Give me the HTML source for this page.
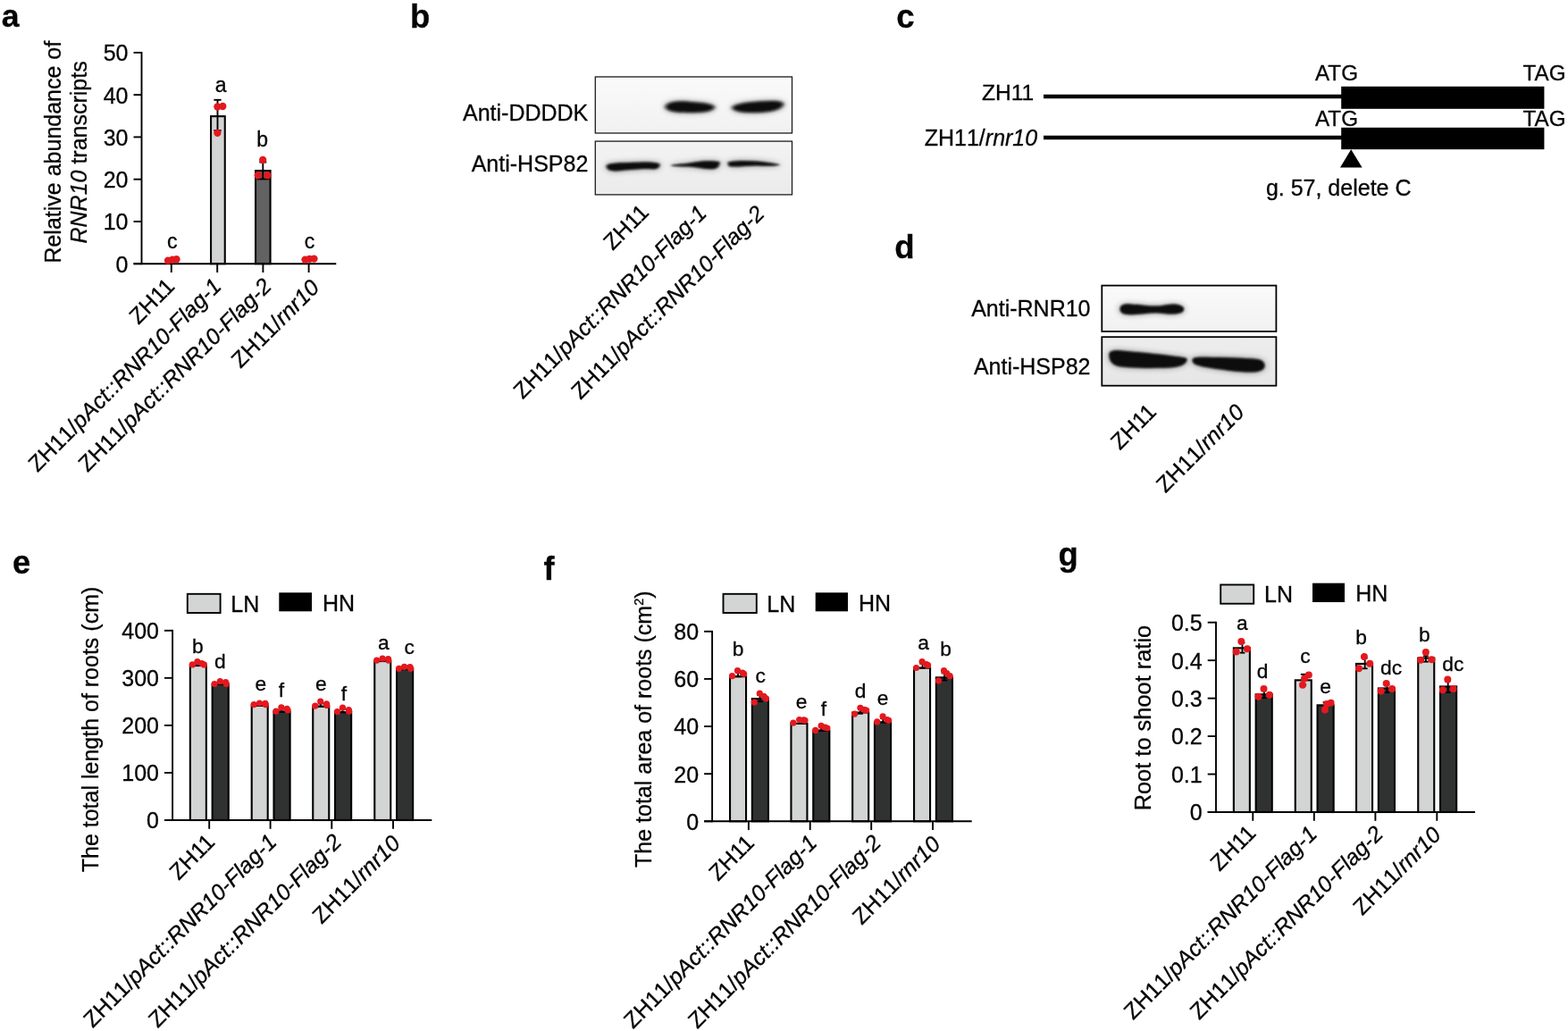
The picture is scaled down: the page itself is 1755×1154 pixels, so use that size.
<!DOCTYPE html>
<html lang="en">
<head>
<meta charset="utf-8">
<title>Figure</title>
<style>
html,body{margin:0;padding:0;background:#fff;}
body{width:1755px;height:1154px;overflow:hidden;}
svg{display:block;}
svg text{font-family:'Liberation Sans', Arial, Helvetica, sans-serif;fill:#050505;stroke:#050505;stroke-width:0.3px;}
</style>
</head>
<body>
<svg width="1755" height="1154" viewBox="0 0 1755 1154">
<defs>
<filter id="b2" x="-20%" y="-100%" width="140%" height="300%"><feGaussianBlur stdDeviation="2.2 1.7"/></filter>
<filter id="halo" x="-30%" y="-200%" width="160%" height="500%"><feGaussianBlur stdDeviation="4.5 3.5"/></filter>
<filter id="b12" x="-20%" y="-100%" width="140%" height="300%"><feGaussianBlur stdDeviation="1.3 1.1"/></filter>
<filter id="b15" x="-20%" y="-100%" width="140%" height="300%"><feGaussianBlur stdDeviation="1.6 1.2"/></filter>
<linearGradient id="bg1" x1="0" y1="0" x2="0" y2="1"><stop offset="0" stop-color="#fafafa"/><stop offset="1" stop-color="#f1f1f1"/></linearGradient>
<linearGradient id="bg2" x1="0" y1="0" x2="0" y2="1"><stop offset="0" stop-color="#f3f3f3"/><stop offset="1" stop-color="#ebebeb"/></linearGradient>
<linearGradient id="bg3" x1="0" y1="0" x2="0" y2="1"><stop offset="0" stop-color="#ededed"/><stop offset="1" stop-color="#e6e6e6"/></linearGradient>
<clipPath id="cb1"><rect x="666.3" y="86" width="220.2" height="63"/></clipPath>
<clipPath id="cb2"><rect x="666.3" y="158.1" width="220.2" height="59.8"/></clipPath>
<clipPath id="cd1"><rect x="1233.2" y="319.5" width="195.3" height="51.6"/></clipPath>
<clipPath id="cd2"><rect x="1233.2" y="377.1" width="195.3" height="54.7"/></clipPath>
</defs>
<rect x="0" y="0" width="1755" height="1154" fill="#ffffff"/>
<text x="1.80" y="30.40" font-size="35.6" font-weight="bold">a</text>
<rect x="236.05" y="130.15" width="15.70" height="165.05" fill="#d3d4d4" stroke="#000" stroke-width="2.1"/>
<rect x="286.05" y="191.05" width="16.50" height="104.15" fill="#626262" stroke="#000" stroke-width="2.1"/>
<line x1="158.50" y1="57.95" x2="158.50" y2="296.15" stroke="#000" stroke-width="1.9" stroke-linecap="butt"/>
<line x1="149.50" y1="295.20" x2="376.30" y2="295.20" stroke="#000" stroke-width="1.9" stroke-linecap="butt"/>
<line x1="149.50" y1="295.20" x2="158.50" y2="295.20" stroke="#000" stroke-width="1.9" stroke-linecap="butt"/>
<text x="143.50" y="304.60" font-size="25" text-anchor="end">0</text>
<line x1="149.50" y1="247.94" x2="158.50" y2="247.94" stroke="#000" stroke-width="1.9" stroke-linecap="butt"/>
<text x="143.50" y="257.34" font-size="25" text-anchor="end">10</text>
<line x1="149.50" y1="200.68" x2="158.50" y2="200.68" stroke="#000" stroke-width="1.9" stroke-linecap="butt"/>
<text x="143.50" y="210.08" font-size="25" text-anchor="end">20</text>
<line x1="149.50" y1="153.42" x2="158.50" y2="153.42" stroke="#000" stroke-width="1.9" stroke-linecap="butt"/>
<text x="143.50" y="162.82" font-size="25" text-anchor="end">30</text>
<line x1="149.50" y1="106.16" x2="158.50" y2="106.16" stroke="#000" stroke-width="1.9" stroke-linecap="butt"/>
<text x="143.50" y="115.56" font-size="25" text-anchor="end">40</text>
<line x1="149.50" y1="58.90" x2="158.50" y2="58.90" stroke="#000" stroke-width="1.9" stroke-linecap="butt"/>
<text x="143.50" y="68.30" font-size="25" text-anchor="end">50</text>
<line x1="191.80" y1="295.20" x2="191.80" y2="305.00" stroke="#000" stroke-width="1.9" stroke-linecap="butt"/>
<line x1="243.20" y1="295.20" x2="243.20" y2="305.00" stroke="#000" stroke-width="1.9" stroke-linecap="butt"/>
<line x1="294.40" y1="295.20" x2="294.40" y2="305.00" stroke="#000" stroke-width="1.9" stroke-linecap="butt"/>
<line x1="345.60" y1="295.20" x2="345.60" y2="305.00" stroke="#000" stroke-width="1.9" stroke-linecap="butt"/>
<line x1="243.50" y1="111.80" x2="243.50" y2="146.10" stroke="#000" stroke-width="1.9" stroke-linecap="butt"/>
<line x1="239.40" y1="111.80" x2="247.60" y2="111.80" stroke="#000" stroke-width="1.9" stroke-linecap="butt"/>
<line x1="239.40" y1="146.10" x2="247.60" y2="146.10" stroke="#000" stroke-width="1.9" stroke-linecap="butt"/>
<line x1="294.30" y1="181.50" x2="294.30" y2="200.40" stroke="#000" stroke-width="1.9" stroke-linecap="butt"/>
<line x1="290.30" y1="181.50" x2="298.30" y2="181.50" stroke="#000" stroke-width="1.9" stroke-linecap="butt"/>
<line x1="287.50" y1="200.40" x2="301.20" y2="200.40" stroke="#000" stroke-width="1.9" stroke-linecap="butt"/>
<circle cx="188.00" cy="291.60" r="4.15" fill="#e2191f"/>
<circle cx="193.00" cy="290.60" r="4.15" fill="#e2191f"/>
<circle cx="197.50" cy="290.20" r="4.15" fill="#e2191f"/>
<circle cx="243.40" cy="119.50" r="4.15" fill="#e2191f"/>
<circle cx="249.30" cy="119.00" r="4.15" fill="#e2191f"/>
<circle cx="243.40" cy="148.80" r="4.15" fill="#e2191f"/>
<circle cx="294.20" cy="179.00" r="4.15" fill="#e2191f"/>
<circle cx="288.70" cy="196.20" r="4.15" fill="#e2191f"/>
<circle cx="299.30" cy="196.20" r="4.15" fill="#e2191f"/>
<circle cx="341.50" cy="290.60" r="4.15" fill="#e2191f"/>
<circle cx="346.50" cy="289.80" r="4.15" fill="#e2191f"/>
<circle cx="351.50" cy="289.60" r="4.15" fill="#e2191f"/>
<text x="192.80" y="278.20" font-size="23" text-anchor="middle">c</text>
<text x="247.20" y="102.60" font-size="23" text-anchor="middle">a</text>
<text x="293.70" y="164.00" font-size="23" text-anchor="middle">b</text>
<text x="346.40" y="278.20" font-size="23" text-anchor="middle">c</text>
<text transform="translate(67.60 170.20) rotate(-90)" font-size="25" text-anchor="middle">Relative abundance of</text>
<text transform="translate(97.00 170.40) rotate(-90)" font-size="25" text-anchor="middle"><tspan font-style="italic">RNR10</tspan> transcripts</text>
<text transform="translate(196.80 322.00) rotate(-45)" font-size="25" text-anchor="end">ZH11</text>
<text transform="translate(249.20 322.00) rotate(-45)" font-size="25" text-anchor="end"><tspan style="font-kerning:none">ZH11/</tspan><tspan font-style="italic">pAct::RNR10-Flag-1</tspan></text>
<text transform="translate(305.40 322.00) rotate(-45)" font-size="25" text-anchor="end"><tspan style="font-kerning:none">ZH11/</tspan><tspan font-style="italic">pAct::RNR10-Flag-2</tspan></text>
<text transform="translate(358.80 323.50) rotate(-45)" font-size="25" text-anchor="end"><tspan style="font-kerning:none">ZH11/</tspan><tspan font-style="italic">rnr10</tspan></text>
<text x="458.90" y="30.70" font-size="36.5" font-weight="bold">b</text>
<text x="658.30" y="135.00" font-size="25" text-anchor="end">Anti-DDDDK</text>
<text x="658.30" y="192.00" font-size="25" text-anchor="end">Anti-HSP82</text>
<g clip-path="url(#cb1)">
<rect x="666.30" y="86.00" width="220.20" height="63.00" fill="url(#bg1)"/>
<path d="M744.5 120 C 746 113.5, 760 113, 772 114 C 785 115, 797 116, 800 119.5 C 799 125, 786 126, 772 126 C 760 126, 747 125.5, 744.5 120 Z" fill="#000" opacity="0.45" filter="url(#halo)"/>
<path d="M744.5 120 C 746 113.5, 760 113, 772 114 C 785 115, 797 116, 800 119.5 C 799 125, 786 126, 772 126 C 760 126, 747 125.5, 744.5 120 Z" fill="#0a0808" opacity="1" filter="url(#b2)"/>
<path d="M819 120.5 C 822 116, 840 114, 853 113.5 C 864 112.7, 875 112.5, 877 116 C 877 121.5, 866 125, 852 125.8 C 840 126.5, 822 126.5, 819 120.5 Z" fill="#000" opacity="0.45" filter="url(#halo)"/>
<path d="M819 120.5 C 822 116, 840 114, 853 113.5 C 864 112.7, 875 112.5, 877 116 C 877 121.5, 866 125, 852 125.8 C 840 126.5, 822 126.5, 819 120.5 Z" fill="#0a0808" opacity="1" filter="url(#b2)"/>
</g>
<rect x="666.30" y="86.00" width="220.20" height="63.00" fill="none" stroke="#1c1c1c" stroke-width="1.3"/>
<g clip-path="url(#cb2)">
<rect x="666.30" y="158.10" width="220.20" height="59.80" fill="url(#bg2)"/>
<path d="M678.5 186 C 679.5 182.5, 690 182.5, 705 182 C 720 181.5, 733 181, 738.5 183.5 C 739 187.5, 735 190, 730 189.3 C 720 188.5, 705 190, 695 191 C 686 192, 679.5 191.5, 678.5 186 Z" fill="#000" opacity="0.45" filter="url(#halo)"/>
<path d="M678.5 186 C 679.5 182.5, 690 182.5, 705 182 C 720 181.5, 733 181, 738.5 183.5 C 739 187.5, 735 190, 730 189.3 C 720 188.5, 705 190, 695 191 C 686 192, 679.5 191.5, 678.5 186 Z" fill="#0a0808" opacity="1" filter="url(#b15)"/>
<path d="M750 185 C 758 183.3, 770 183.3, 778 181.5 C 788 179.5, 800 180, 805.5 181 C 806 186.5, 802 189.7, 795 189.2 C 786 188.7, 778 187, 770 186.5 C 762 186.2, 755 186.8, 750 185 Z" fill="#000" opacity="0.45" filter="url(#halo)"/>
<path d="M750 185 C 758 183.3, 770 183.3, 778 181.5 C 788 179.5, 800 180, 805.5 181 C 806 186.5, 802 189.7, 795 189.2 C 786 188.7, 778 187, 770 186.5 C 762 186.2, 755 186.8, 750 185 Z" fill="#0a0808" opacity="1" filter="url(#b15)"/>
<path d="M814.5 181.5 C 820 180, 835 179.5, 848 180.5 C 860 181.5, 870 183.3, 873.5 184.5 C 868 186.5, 855 185.5, 845 185.5 C 835 185.5, 822 187.5, 815.5 186 Z" fill="#000" opacity="0.45" filter="url(#halo)"/>
<path d="M814.5 181.5 C 820 180, 835 179.5, 848 180.5 C 860 181.5, 870 183.3, 873.5 184.5 C 868 186.5, 855 185.5, 845 185.5 C 835 185.5, 822 187.5, 815.5 186 Z" fill="#0a0808" opacity="1" filter="url(#b15)"/>
</g>
<rect x="666.30" y="158.10" width="220.20" height="59.80" fill="none" stroke="#1c1c1c" stroke-width="1.3"/>
<text transform="translate(727.60 239.20) rotate(-45)" font-size="25" text-anchor="end">ZH11</text>
<text transform="translate(792.40 240.20) rotate(-45)" font-size="25" text-anchor="end"><tspan style="font-kerning:none">ZH11/</tspan><tspan font-style="italic">pAct::RNR10-Flag-1</tspan></text>
<text transform="translate(857.00 240.60) rotate(-45)" font-size="25" text-anchor="end"><tspan style="font-kerning:none">ZH11/</tspan><tspan font-style="italic">pAct::RNR10-Flag-2</tspan></text>
<text x="1003.20" y="30.80" font-size="36.6" font-weight="bold">c</text>
<text x="1157.30" y="112.00" font-size="24.6" text-anchor="end">ZH11</text>
<text x="1161.20" y="162.70" font-size="25" text-anchor="end"><tspan style="font-kerning:none">ZH11/</tspan><tspan font-style="italic">rnr10</tspan></text>
<line x1="1168.00" y1="108.00" x2="1502.00" y2="108.00" stroke="#000" stroke-width="4.3" stroke-linecap="butt"/>
<line x1="1168.00" y1="154.00" x2="1502.00" y2="154.00" stroke="#000" stroke-width="4.3" stroke-linecap="butt"/>
<rect x="1501.20" y="96.80" width="227.20" height="25.00" fill="#000"/>
<rect x="1501.20" y="142.80" width="227.20" height="24.40" fill="#000"/>
<text x="1496.00" y="89.80" font-size="24.2" text-anchor="middle">ATG</text>
<text x="1728.50" y="89.80" font-size="24.2" text-anchor="middle">TAG</text>
<text x="1496.00" y="140.60" font-size="24.2" text-anchor="middle">ATG</text>
<text x="1728.50" y="140.60" font-size="24.2" text-anchor="middle">TAG</text>
<path d="M1512.2 167.2 L1524.6 187.6 L1500 187.6 Z" fill="#000"/>
<text x="1498.20" y="219.00" font-size="25" text-anchor="middle">g. 57, delete C</text>
<text x="1001.30" y="288.90" font-size="36.6" font-weight="bold">d</text>
<text x="1220.50" y="354.00" font-size="25" text-anchor="end">Anti-RNR10</text>
<text x="1220.50" y="419.40" font-size="25" text-anchor="end">Anti-HSP82</text>
<g clip-path="url(#cd1)">
<rect x="1233.20" y="319.50" width="195.30" height="51.60" fill="url(#bg1)"/>
<path d="M1253.5 346 C 1253.5 341.5, 1258 340, 1265 340.4 C 1275 341, 1285 342.6, 1293 342.6 C 1300 342.6, 1305 340.6, 1312 340.4 C 1319 340.4, 1325.2 342.2, 1325.2 346 C 1325.2 350, 1319 351.8, 1310 351.6 C 1303 351.4, 1299 350.2, 1293 350.2 C 1285 350.2, 1275 352, 1265 352.2 C 1258 352.2, 1253.5 350.5, 1253.5 346 Z" fill="#000" opacity="0.45" filter="url(#halo)"/>
<path d="M1253.5 346 C 1253.5 341.5, 1258 340, 1265 340.4 C 1275 341, 1285 342.6, 1293 342.6 C 1300 342.6, 1305 340.6, 1312 340.4 C 1319 340.4, 1325.2 342.2, 1325.2 346 C 1325.2 350, 1319 351.8, 1310 351.6 C 1303 351.4, 1299 350.2, 1293 350.2 C 1285 350.2, 1275 352, 1265 352.2 C 1258 352.2, 1253.5 350.5, 1253.5 346 Z" fill="#0a0808" opacity="1" filter="url(#b12)"/>
</g>
<rect x="1233.30" y="319.60" width="195.10" height="51.40" fill="none" stroke="#000" stroke-width="1.8"/>
<g clip-path="url(#cd2)">
<rect x="1233.20" y="377.10" width="195.30" height="54.70" fill="url(#bg3)"/>
<path d="M1241.3 397 C 1241.3 392.8, 1246 391.6, 1255 392.6 C 1280 394.8, 1310 397.8, 1326.5 400.5 C 1329.5 401.2, 1329 404, 1326.5 406.5 C 1322 410.8, 1312 411.8, 1300 411.8 C 1285 412, 1265 412, 1253 410.3 C 1245 408.8, 1241.3 404, 1241.3 397 Z" fill="#000" opacity="0.45" filter="url(#halo)"/>
<path d="M1241.3 397 C 1241.3 392.8, 1246 391.6, 1255 392.6 C 1280 394.8, 1310 397.8, 1326.5 400.5 C 1329.5 401.2, 1329 404, 1326.5 406.5 C 1322 410.8, 1312 411.8, 1300 411.8 C 1285 412, 1265 412, 1253 410.3 C 1245 408.8, 1241.3 404, 1241.3 397 Z" fill="#0a0808" opacity="1" filter="url(#b12)"/>
<path d="M1334.5 403.5 C 1334.5 400, 1338 399.4, 1350 399.8 C 1370 400.2, 1395 400.8, 1407 402 C 1413.5 403, 1416 406, 1415.5 410 C 1415 414.2, 1410 416.6, 1400 416.6 C 1385 416.4, 1365 413.6, 1350 411 C 1341 409.4, 1334.5 408, 1334.5 403.5 Z" fill="#000" opacity="0.45" filter="url(#halo)"/>
<path d="M1334.5 403.5 C 1334.5 400, 1338 399.4, 1350 399.8 C 1370 400.2, 1395 400.8, 1407 402 C 1413.5 403, 1416 406, 1415.5 410 C 1415 414.2, 1410 416.6, 1400 416.6 C 1385 416.4, 1365 413.6, 1350 411 C 1341 409.4, 1334.5 408, 1334.5 403.5 Z" fill="#0a0808" opacity="1" filter="url(#b12)"/>
</g>
<rect x="1233.30" y="377.20" width="195.10" height="54.50" fill="none" stroke="#000" stroke-width="1.8"/>
<text transform="translate(1295.50 462.50) rotate(-45)" font-size="25" text-anchor="end">ZH11</text>
<text transform="translate(1394.00 463.00) rotate(-45)" font-size="25" text-anchor="end"><tspan style="font-kerning:none">ZH11/</tspan><tspan font-style="italic">rnr10</tspan></text>
<text x="13.90" y="642.30" font-size="36.4" font-weight="bold">e</text>
<rect x="212.85" y="745.05" width="18.00" height="172.95" fill="#d3d4d4" stroke="#000" stroke-width="2.1"/>
<rect x="237.65" y="766.05" width="18.10" height="151.95" fill="#303232" stroke="#000" stroke-width="2.1"/>
<rect x="281.70" y="789.85" width="18.00" height="128.15" fill="#d3d4d4" stroke="#000" stroke-width="2.1"/>
<rect x="306.50" y="796.55" width="18.10" height="121.45" fill="#303232" stroke="#000" stroke-width="2.1"/>
<rect x="350.25" y="790.85" width="18.00" height="127.15" fill="#d3d4d4" stroke="#000" stroke-width="2.1"/>
<rect x="375.05" y="797.35" width="18.10" height="120.65" fill="#303232" stroke="#000" stroke-width="2.1"/>
<rect x="419.25" y="740.05" width="18.00" height="177.95" fill="#d3d4d4" stroke="#000" stroke-width="2.1"/>
<rect x="444.05" y="749.25" width="18.10" height="168.75" fill="#303232" stroke="#000" stroke-width="2.1"/>
<line x1="193.10" y1="704.85" x2="193.10" y2="918.95" stroke="#000" stroke-width="1.9" stroke-linecap="butt"/>
<line x1="184.00" y1="918.00" x2="483.30" y2="918.00" stroke="#000" stroke-width="1.9" stroke-linecap="butt"/>
<line x1="184.00" y1="918.00" x2="193.10" y2="918.00" stroke="#000" stroke-width="1.9" stroke-linecap="butt"/>
<text x="178.00" y="927.40" font-size="25" text-anchor="end">0</text>
<line x1="184.00" y1="864.95" x2="193.10" y2="864.95" stroke="#000" stroke-width="1.9" stroke-linecap="butt"/>
<text x="178.00" y="874.35" font-size="25" text-anchor="end">100</text>
<line x1="184.00" y1="811.90" x2="193.10" y2="811.90" stroke="#000" stroke-width="1.9" stroke-linecap="butt"/>
<text x="178.00" y="821.30" font-size="25" text-anchor="end">200</text>
<line x1="184.00" y1="758.85" x2="193.10" y2="758.85" stroke="#000" stroke-width="1.9" stroke-linecap="butt"/>
<text x="178.00" y="768.25" font-size="25" text-anchor="end">300</text>
<line x1="184.00" y1="705.80" x2="193.10" y2="705.80" stroke="#000" stroke-width="1.9" stroke-linecap="butt"/>
<text x="178.00" y="715.20" font-size="25" text-anchor="end">400</text>
<line x1="234.20" y1="918.00" x2="234.20" y2="927.80" stroke="#000" stroke-width="1.9" stroke-linecap="butt"/>
<line x1="302.60" y1="918.00" x2="302.60" y2="927.80" stroke="#000" stroke-width="1.9" stroke-linecap="butt"/>
<line x1="371.30" y1="918.00" x2="371.30" y2="927.80" stroke="#000" stroke-width="1.9" stroke-linecap="butt"/>
<line x1="440.00" y1="918.00" x2="440.00" y2="927.80" stroke="#000" stroke-width="1.9" stroke-linecap="butt"/>
<line x1="358.80" y1="787.50" x2="358.80" y2="790.50" stroke="#000" stroke-width="1.8" stroke-linecap="butt"/>
<line x1="355.80" y1="787.50" x2="361.80" y2="787.50" stroke="#000" stroke-width="1.8" stroke-linecap="butt"/>
<line x1="355.80" y1="790.50" x2="361.80" y2="790.50" stroke="#000" stroke-width="1.8" stroke-linecap="butt"/>
<line x1="314.90" y1="793.50" x2="314.90" y2="796.50" stroke="#000" stroke-width="1.8" stroke-linecap="butt"/>
<line x1="311.90" y1="793.50" x2="317.90" y2="793.50" stroke="#000" stroke-width="1.8" stroke-linecap="butt"/>
<line x1="311.90" y1="796.50" x2="317.90" y2="796.50" stroke="#000" stroke-width="1.8" stroke-linecap="butt"/>
<line x1="383.50" y1="794.00" x2="383.50" y2="797.00" stroke="#000" stroke-width="1.8" stroke-linecap="butt"/>
<line x1="380.50" y1="794.00" x2="386.50" y2="794.00" stroke="#000" stroke-width="1.8" stroke-linecap="butt"/>
<line x1="380.50" y1="797.00" x2="386.50" y2="797.00" stroke="#000" stroke-width="1.8" stroke-linecap="butt"/>
<circle cx="215.30" cy="743.90" r="3.6" fill="#e2191f"/>
<circle cx="220.90" cy="740.70" r="3.6" fill="#e2191f"/>
<circle cx="225.90" cy="742.70" r="3.6" fill="#e2191f"/>
<circle cx="228.40" cy="743.90" r="3.6" fill="#e2191f"/>
<circle cx="240.10" cy="765.50" r="3.6" fill="#e2191f"/>
<circle cx="246.30" cy="762.70" r="3.6" fill="#e2191f"/>
<circle cx="252.60" cy="763.50" r="3.6" fill="#e2191f"/>
<circle cx="253.30" cy="765.50" r="3.6" fill="#e2191f"/>
<circle cx="284.15" cy="788.60" r="3.6" fill="#e2191f"/>
<circle cx="290.50" cy="787.00" r="3.6" fill="#e2191f"/>
<circle cx="296.90" cy="787.40" r="3.6" fill="#e2191f"/>
<circle cx="297.25" cy="788.60" r="3.6" fill="#e2191f"/>
<circle cx="308.95" cy="796.20" r="3.6" fill="#e2191f"/>
<circle cx="314.90" cy="791.80" r="3.6" fill="#e2191f"/>
<circle cx="321.20" cy="793.40" r="3.6" fill="#e2191f"/>
<circle cx="322.15" cy="795.00" r="3.6" fill="#e2191f"/>
<circle cx="352.70" cy="790.20" r="3.6" fill="#e2191f"/>
<circle cx="358.70" cy="785.00" r="3.6" fill="#e2191f"/>
<circle cx="365.50" cy="787.80" r="3.6" fill="#e2191f"/>
<circle cx="365.80" cy="789.40" r="3.6" fill="#e2191f"/>
<circle cx="377.50" cy="796.60" r="3.6" fill="#e2191f"/>
<circle cx="383.50" cy="792.20" r="3.6" fill="#e2191f"/>
<circle cx="390.30" cy="794.60" r="3.6" fill="#e2191f"/>
<circle cx="390.70" cy="796.20" r="3.6" fill="#e2191f"/>
<circle cx="421.70" cy="739.10" r="3.6" fill="#e2191f"/>
<circle cx="428.10" cy="737.20" r="3.6" fill="#e2191f"/>
<circle cx="434.50" cy="737.50" r="3.6" fill="#e2191f"/>
<circle cx="434.80" cy="739.10" r="3.6" fill="#e2191f"/>
<circle cx="446.50" cy="748.30" r="3.6" fill="#e2191f"/>
<circle cx="452.50" cy="746.30" r="3.6" fill="#e2191f"/>
<circle cx="458.90" cy="746.70" r="3.6" fill="#e2191f"/>
<circle cx="459.70" cy="748.30" r="3.6" fill="#e2191f"/>
<text x="221.30" y="731.10" font-size="22.8" text-anchor="middle">b</text>
<text x="246.30" y="747.70" font-size="22.8" text-anchor="middle">d</text>
<text x="291.80" y="772.90" font-size="22.8" text-anchor="middle">e</text>
<text x="314.80" y="779.80" font-size="22.8" text-anchor="middle">f</text>
<text x="359.30" y="772.90" font-size="22.8" text-anchor="middle">e</text>
<text x="384.80" y="783.80" font-size="22.8" text-anchor="middle">f</text>
<text x="429.30" y="727.40" font-size="22.8" text-anchor="middle">a</text>
<text x="458.30" y="731.90" font-size="22.8" text-anchor="middle">c</text>
<text transform="translate(110.00 816.50) rotate(-90)" font-size="25" text-anchor="middle">The total length of roots (cm)</text>
<rect x="209.80" y="664.80" width="36.80" height="21.20" fill="#d3d4d4" stroke="#000" stroke-width="1.9"/>
<text x="258.30" y="685.00" font-size="25">LN</text>
<rect x="312.30" y="663.30" width="36.70" height="21.00" fill="#000"/>
<text x="361.00" y="684.00" font-size="25">HN</text>
<text transform="translate(241.90 944.00) rotate(-45)" font-size="25" text-anchor="end">ZH11</text>
<text transform="translate(311.00 944.00) rotate(-45)" font-size="25" text-anchor="end"><tspan style="font-kerning:none">ZH11/</tspan><tspan font-style="italic">pAct::RNR10-Flag-1</tspan></text>
<text transform="translate(383.80 944.00) rotate(-45)" font-size="25" text-anchor="end"><tspan style="font-kerning:none">ZH11/</tspan><tspan font-style="italic">pAct::RNR10-Flag-2</tspan></text>
<text transform="translate(449.50 945.50) rotate(-45)" font-size="25" text-anchor="end"><tspan style="font-kerning:none">ZH11/</tspan><tspan font-style="italic">rnr10</tspan></text>
<text x="608.40" y="649.30" font-size="36.4" font-weight="bold">f</text>
<rect x="817.05" y="757.25" width="18.00" height="162.05" fill="#d3d4d4" stroke="#000" stroke-width="2.1"/>
<rect x="841.85" y="782.05" width="18.10" height="137.25" fill="#303232" stroke="#000" stroke-width="2.1"/>
<rect x="885.45" y="809.85" width="18.00" height="109.45" fill="#d3d4d4" stroke="#000" stroke-width="2.1"/>
<rect x="910.25" y="817.85" width="18.10" height="101.45" fill="#303232" stroke="#000" stroke-width="2.1"/>
<rect x="954.15" y="797.55" width="18.00" height="121.75" fill="#d3d4d4" stroke="#000" stroke-width="2.1"/>
<rect x="978.95" y="808.55" width="18.10" height="110.75" fill="#303232" stroke="#000" stroke-width="2.1"/>
<rect x="1023.05" y="747.65" width="18.00" height="171.65" fill="#d3d4d4" stroke="#000" stroke-width="2.1"/>
<rect x="1047.85" y="758.35" width="18.10" height="160.95" fill="#303232" stroke="#000" stroke-width="2.1"/>
<line x1="797.10" y1="705.85" x2="797.10" y2="920.25" stroke="#000" stroke-width="1.9" stroke-linecap="butt"/>
<line x1="788.10" y1="919.30" x2="1087.70" y2="919.30" stroke="#000" stroke-width="1.9" stroke-linecap="butt"/>
<line x1="788.10" y1="919.30" x2="797.10" y2="919.30" stroke="#000" stroke-width="1.9" stroke-linecap="butt"/>
<text x="782.10" y="928.70" font-size="25" text-anchor="end">0</text>
<line x1="788.10" y1="866.17" x2="797.10" y2="866.17" stroke="#000" stroke-width="1.9" stroke-linecap="butt"/>
<text x="782.10" y="875.57" font-size="25" text-anchor="end">20</text>
<line x1="788.10" y1="813.05" x2="797.10" y2="813.05" stroke="#000" stroke-width="1.9" stroke-linecap="butt"/>
<text x="782.10" y="822.45" font-size="25" text-anchor="end">40</text>
<line x1="788.10" y1="759.92" x2="797.10" y2="759.92" stroke="#000" stroke-width="1.9" stroke-linecap="butt"/>
<text x="782.10" y="769.32" font-size="25" text-anchor="end">60</text>
<line x1="788.10" y1="706.80" x2="797.10" y2="706.80" stroke="#000" stroke-width="1.9" stroke-linecap="butt"/>
<text x="782.10" y="716.20" font-size="25" text-anchor="end">80</text>
<line x1="837.90" y1="919.30" x2="837.90" y2="929.10" stroke="#000" stroke-width="1.9" stroke-linecap="butt"/>
<line x1="906.70" y1="919.30" x2="906.70" y2="929.10" stroke="#000" stroke-width="1.9" stroke-linecap="butt"/>
<line x1="975.20" y1="919.30" x2="975.20" y2="929.10" stroke="#000" stroke-width="1.9" stroke-linecap="butt"/>
<line x1="1044.00" y1="919.30" x2="1044.00" y2="929.10" stroke="#000" stroke-width="1.9" stroke-linecap="butt"/>
<line x1="826.00" y1="752.50" x2="826.00" y2="757.30" stroke="#000" stroke-width="1.8" stroke-linecap="butt"/>
<line x1="823.00" y1="752.50" x2="829.00" y2="752.50" stroke="#000" stroke-width="1.8" stroke-linecap="butt"/>
<line x1="823.00" y1="757.30" x2="829.00" y2="757.30" stroke="#000" stroke-width="1.8" stroke-linecap="butt"/>
<line x1="850.60" y1="778.00" x2="850.60" y2="785.20" stroke="#000" stroke-width="1.8" stroke-linecap="butt"/>
<line x1="847.35" y1="778.00" x2="853.85" y2="778.00" stroke="#000" stroke-width="1.8" stroke-linecap="butt"/>
<line x1="847.35" y1="785.20" x2="853.85" y2="785.20" stroke="#000" stroke-width="1.8" stroke-linecap="butt"/>
<line x1="919.20" y1="813.50" x2="919.20" y2="817.40" stroke="#000" stroke-width="1.8" stroke-linecap="butt"/>
<line x1="916.20" y1="813.50" x2="922.20" y2="813.50" stroke="#000" stroke-width="1.8" stroke-linecap="butt"/>
<line x1="916.20" y1="817.40" x2="922.20" y2="817.40" stroke="#000" stroke-width="1.8" stroke-linecap="butt"/>
<line x1="963.00" y1="794.00" x2="963.00" y2="798.80" stroke="#000" stroke-width="1.8" stroke-linecap="butt"/>
<line x1="960.00" y1="794.00" x2="966.00" y2="794.00" stroke="#000" stroke-width="1.8" stroke-linecap="butt"/>
<line x1="960.00" y1="798.80" x2="966.00" y2="798.80" stroke="#000" stroke-width="1.8" stroke-linecap="butt"/>
<line x1="988.30" y1="804.00" x2="988.30" y2="808.30" stroke="#000" stroke-width="1.8" stroke-linecap="butt"/>
<line x1="985.30" y1="804.00" x2="991.30" y2="804.00" stroke="#000" stroke-width="1.8" stroke-linecap="butt"/>
<line x1="985.30" y1="808.30" x2="991.30" y2="808.30" stroke="#000" stroke-width="1.8" stroke-linecap="butt"/>
<line x1="1032.50" y1="743.00" x2="1032.50" y2="747.60" stroke="#000" stroke-width="1.8" stroke-linecap="butt"/>
<line x1="1029.50" y1="743.00" x2="1035.50" y2="743.00" stroke="#000" stroke-width="1.8" stroke-linecap="butt"/>
<line x1="1029.50" y1="747.60" x2="1035.50" y2="747.60" stroke="#000" stroke-width="1.8" stroke-linecap="butt"/>
<line x1="1057.00" y1="753.50" x2="1057.00" y2="761.50" stroke="#000" stroke-width="1.8" stroke-linecap="butt"/>
<line x1="1053.75" y1="753.50" x2="1060.25" y2="753.50" stroke="#000" stroke-width="1.8" stroke-linecap="butt"/>
<line x1="1053.75" y1="761.50" x2="1060.25" y2="761.50" stroke="#000" stroke-width="1.8" stroke-linecap="butt"/>
<circle cx="819.50" cy="756.70" r="3.6" fill="#e2191f"/>
<circle cx="825.50" cy="750.70" r="3.6" fill="#e2191f"/>
<circle cx="831.10" cy="753.10" r="3.6" fill="#e2191f"/>
<circle cx="832.60" cy="754.30" r="3.6" fill="#e2191f"/>
<circle cx="844.30" cy="786.20" r="3.6" fill="#e2191f"/>
<circle cx="850.30" cy="776.20" r="3.6" fill="#e2191f"/>
<circle cx="855.00" cy="779.40" r="3.6" fill="#e2191f"/>
<circle cx="857.50" cy="781.80" r="3.6" fill="#e2191f"/>
<circle cx="887.90" cy="809.10" r="3.6" fill="#e2191f"/>
<circle cx="894.70" cy="805.50" r="3.6" fill="#e2191f"/>
<circle cx="899.50" cy="805.90" r="3.6" fill="#e2191f"/>
<circle cx="901.00" cy="806.30" r="3.6" fill="#e2191f"/>
<circle cx="912.70" cy="817.40" r="3.6" fill="#e2191f"/>
<circle cx="919.10" cy="812.30" r="3.6" fill="#e2191f"/>
<circle cx="923.40" cy="814.20" r="3.6" fill="#e2191f"/>
<circle cx="925.90" cy="815.00" r="3.6" fill="#e2191f"/>
<circle cx="956.60" cy="799.10" r="3.6" fill="#e2191f"/>
<circle cx="962.90" cy="792.30" r="3.6" fill="#e2191f"/>
<circle cx="967.30" cy="794.30" r="3.6" fill="#e2191f"/>
<circle cx="969.70" cy="795.10" r="3.6" fill="#e2191f"/>
<circle cx="981.70" cy="807.90" r="3.6" fill="#e2191f"/>
<circle cx="988.10" cy="801.90" r="3.6" fill="#e2191f"/>
<circle cx="992.80" cy="805.50" r="3.6" fill="#e2191f"/>
<circle cx="994.60" cy="806.30" r="3.6" fill="#e2191f"/>
<circle cx="1025.50" cy="747.50" r="3.6" fill="#e2191f"/>
<circle cx="1032.10" cy="740.70" r="3.6" fill="#e2191f"/>
<circle cx="1036.90" cy="743.50" r="3.6" fill="#e2191f"/>
<circle cx="1038.60" cy="744.70" r="3.6" fill="#e2191f"/>
<circle cx="1050.50" cy="761.90" r="3.6" fill="#e2191f"/>
<circle cx="1056.50" cy="750.70" r="3.6" fill="#e2191f"/>
<circle cx="1063.20" cy="756.70" r="3.6" fill="#e2191f"/>
<circle cx="1059.70" cy="753.50" r="3.6" fill="#e2191f"/>
<text x="826.00" y="734.40" font-size="22.8" text-anchor="middle">b</text>
<text x="851.30" y="764.40" font-size="22.8" text-anchor="middle">c</text>
<text x="897.00" y="792.70" font-size="22.8" text-anchor="middle">e</text>
<text x="922.00" y="801.10" font-size="22.8" text-anchor="middle">f</text>
<text x="963.00" y="781.10" font-size="22.8" text-anchor="middle">d</text>
<text x="988.00" y="788.70" font-size="22.8" text-anchor="middle">e</text>
<text x="1033.60" y="727.10" font-size="22.8" text-anchor="middle">a</text>
<text x="1058.60" y="734.40" font-size="22.8" text-anchor="middle">b</text>
<text transform="translate(728.80 816.20) rotate(-90)" font-size="25" text-anchor="middle">The total area of roots (cm<tspan font-size="14.5" dy="-8.5">2</tspan><tspan dy="8.5">)</tspan></text>
<rect x="809.50" y="664.80" width="37.30" height="21.20" fill="#d3d4d4" stroke="#000" stroke-width="1.9"/>
<text x="858.30" y="685.00" font-size="25">LN</text>
<rect x="912.70" y="663.30" width="36.30" height="21.00" fill="#000"/>
<text x="961.00" y="684.00" font-size="25">HN</text>
<text transform="translate(845.60 945.00) rotate(-45)" font-size="25" text-anchor="end">ZH11</text>
<text transform="translate(915.90 945.00) rotate(-45)" font-size="25" text-anchor="end"><tspan style="font-kerning:none">ZH11/</tspan><tspan font-style="italic">pAct::RNR10-Flag-1</tspan></text>
<text transform="translate(987.70 945.00) rotate(-45)" font-size="25" text-anchor="end"><tspan style="font-kerning:none">ZH11/</tspan><tspan font-style="italic">pAct::RNR10-Flag-2</tspan></text>
<text transform="translate(1054.00 946.50) rotate(-45)" font-size="25" text-anchor="end"><tspan style="font-kerning:none">ZH11/</tspan><tspan font-style="italic">rnr10</tspan></text>
<text x="1184.60" y="632.80" font-size="36.4" font-weight="bold">g</text>
<rect x="1380.85" y="725.35" width="18.00" height="183.65" fill="#d3d4d4" stroke="#000" stroke-width="2.1"/>
<rect x="1405.65" y="777.25" width="18.10" height="131.75" fill="#303232" stroke="#000" stroke-width="2.1"/>
<rect x="1449.75" y="761.35" width="18.00" height="147.65" fill="#d3d4d4" stroke="#000" stroke-width="2.1"/>
<rect x="1474.55" y="789.35" width="18.10" height="119.65" fill="#303232" stroke="#000" stroke-width="2.1"/>
<rect x="1518.05" y="742.95" width="18.00" height="166.05" fill="#d3d4d4" stroke="#000" stroke-width="2.1"/>
<rect x="1542.85" y="770.45" width="18.10" height="138.55" fill="#303232" stroke="#000" stroke-width="2.1"/>
<rect x="1587.25" y="736.55" width="18.00" height="172.45" fill="#d3d4d4" stroke="#000" stroke-width="2.1"/>
<rect x="1612.05" y="768.45" width="18.10" height="140.55" fill="#303232" stroke="#000" stroke-width="2.1"/>
<line x1="1361.00" y1="695.75" x2="1361.00" y2="909.95" stroke="#000" stroke-width="1.9" stroke-linecap="butt"/>
<line x1="1351.70" y1="909.00" x2="1651.00" y2="909.00" stroke="#000" stroke-width="1.9" stroke-linecap="butt"/>
<line x1="1351.70" y1="909.00" x2="1361.00" y2="909.00" stroke="#000" stroke-width="1.9" stroke-linecap="butt"/>
<text x="1345.70" y="918.40" font-size="25" text-anchor="end">0</text>
<line x1="1351.70" y1="866.54" x2="1361.00" y2="866.54" stroke="#000" stroke-width="1.9" stroke-linecap="butt"/>
<text x="1345.70" y="875.94" font-size="25" text-anchor="end">0.1</text>
<line x1="1351.70" y1="824.08" x2="1361.00" y2="824.08" stroke="#000" stroke-width="1.9" stroke-linecap="butt"/>
<text x="1345.70" y="833.48" font-size="25" text-anchor="end">0.2</text>
<line x1="1351.70" y1="781.62" x2="1361.00" y2="781.62" stroke="#000" stroke-width="1.9" stroke-linecap="butt"/>
<text x="1345.70" y="791.02" font-size="25" text-anchor="end">0.3</text>
<line x1="1351.70" y1="739.16" x2="1361.00" y2="739.16" stroke="#000" stroke-width="1.9" stroke-linecap="butt"/>
<text x="1345.70" y="748.56" font-size="25" text-anchor="end">0.4</text>
<line x1="1351.70" y1="696.70" x2="1361.00" y2="696.70" stroke="#000" stroke-width="1.9" stroke-linecap="butt"/>
<text x="1345.70" y="706.10" font-size="25" text-anchor="end">0.5</text>
<line x1="1402.30" y1="909.00" x2="1402.30" y2="918.80" stroke="#000" stroke-width="1.9" stroke-linecap="butt"/>
<line x1="1470.80" y1="909.00" x2="1470.80" y2="918.80" stroke="#000" stroke-width="1.9" stroke-linecap="butt"/>
<line x1="1539.40" y1="909.00" x2="1539.40" y2="918.80" stroke="#000" stroke-width="1.9" stroke-linecap="butt"/>
<line x1="1608.30" y1="909.00" x2="1608.30" y2="918.80" stroke="#000" stroke-width="1.9" stroke-linecap="butt"/>
<line x1="1390.50" y1="719.50" x2="1390.50" y2="730.70" stroke="#000" stroke-width="1.8" stroke-linecap="butt"/>
<line x1="1387.60" y1="719.50" x2="1393.40" y2="719.50" stroke="#000" stroke-width="1.8" stroke-linecap="butt"/>
<line x1="1387.60" y1="730.70" x2="1393.40" y2="730.70" stroke="#000" stroke-width="1.8" stroke-linecap="butt"/>
<line x1="1414.90" y1="772.50" x2="1414.90" y2="781.20" stroke="#000" stroke-width="1.8" stroke-linecap="butt"/>
<line x1="1412.00" y1="772.50" x2="1417.80" y2="772.50" stroke="#000" stroke-width="1.8" stroke-linecap="butt"/>
<line x1="1412.00" y1="781.20" x2="1417.80" y2="781.20" stroke="#000" stroke-width="1.8" stroke-linecap="butt"/>
<line x1="1459.00" y1="754.80" x2="1459.00" y2="766.50" stroke="#000" stroke-width="1.8" stroke-linecap="butt"/>
<line x1="1455.80" y1="754.80" x2="1462.20" y2="754.80" stroke="#000" stroke-width="1.8" stroke-linecap="butt"/>
<line x1="1455.80" y1="766.50" x2="1462.20" y2="766.50" stroke="#000" stroke-width="1.8" stroke-linecap="butt"/>
<line x1="1483.50" y1="786.00" x2="1483.50" y2="794.00" stroke="#000" stroke-width="1.8" stroke-linecap="butt"/>
<line x1="1480.60" y1="786.00" x2="1486.40" y2="786.00" stroke="#000" stroke-width="1.8" stroke-linecap="butt"/>
<line x1="1480.60" y1="794.00" x2="1486.40" y2="794.00" stroke="#000" stroke-width="1.8" stroke-linecap="butt"/>
<line x1="1527.70" y1="736.50" x2="1527.70" y2="748.30" stroke="#000" stroke-width="1.8" stroke-linecap="butt"/>
<line x1="1524.80" y1="736.50" x2="1530.60" y2="736.50" stroke="#000" stroke-width="1.8" stroke-linecap="butt"/>
<line x1="1524.80" y1="748.30" x2="1530.60" y2="748.30" stroke="#000" stroke-width="1.8" stroke-linecap="butt"/>
<line x1="1552.50" y1="766.50" x2="1552.50" y2="775.00" stroke="#000" stroke-width="1.8" stroke-linecap="butt"/>
<line x1="1549.60" y1="766.50" x2="1555.40" y2="766.50" stroke="#000" stroke-width="1.8" stroke-linecap="butt"/>
<line x1="1549.60" y1="775.00" x2="1555.40" y2="775.00" stroke="#000" stroke-width="1.8" stroke-linecap="butt"/>
<line x1="1595.90" y1="734.30" x2="1595.90" y2="740.70" stroke="#000" stroke-width="1.8" stroke-linecap="butt"/>
<line x1="1593.00" y1="734.30" x2="1598.80" y2="734.30" stroke="#000" stroke-width="1.8" stroke-linecap="butt"/>
<line x1="1593.00" y1="740.70" x2="1598.80" y2="740.70" stroke="#000" stroke-width="1.8" stroke-linecap="butt"/>
<line x1="1620.70" y1="762.20" x2="1620.70" y2="775.00" stroke="#000" stroke-width="1.8" stroke-linecap="butt"/>
<line x1="1617.80" y1="762.20" x2="1623.60" y2="762.20" stroke="#000" stroke-width="1.8" stroke-linecap="butt"/>
<line x1="1617.80" y1="775.00" x2="1623.60" y2="775.00" stroke="#000" stroke-width="1.8" stroke-linecap="butt"/>
<circle cx="1389.30" cy="717.90" r="4.0" fill="#e2191f"/>
<circle cx="1383.70" cy="729.50" r="4.0" fill="#e2191f"/>
<circle cx="1396.00" cy="726.30" r="4.0" fill="#e2191f"/>
<circle cx="1414.50" cy="771.00" r="4.0" fill="#e2191f"/>
<circle cx="1408.50" cy="779.80" r="4.0" fill="#e2191f"/>
<circle cx="1420.90" cy="777.80" r="4.0" fill="#e2191f"/>
<circle cx="1464.80" cy="755.50" r="4.0" fill="#e2191f"/>
<circle cx="1460.00" cy="759.50" r="4.0" fill="#e2191f"/>
<circle cx="1458.00" cy="766.70" r="4.0" fill="#e2191f"/>
<circle cx="1489.60" cy="786.70" r="4.0" fill="#e2191f"/>
<circle cx="1484.90" cy="787.90" r="4.0" fill="#e2191f"/>
<circle cx="1482.90" cy="794.60" r="4.0" fill="#e2191f"/>
<circle cx="1526.90" cy="735.10" r="4.0" fill="#e2191f"/>
<circle cx="1520.90" cy="748.30" r="4.0" fill="#e2191f"/>
<circle cx="1533.20" cy="742.70" r="4.0" fill="#e2191f"/>
<circle cx="1551.70" cy="765.00" r="4.0" fill="#e2191f"/>
<circle cx="1545.70" cy="773.40" r="4.0" fill="#e2191f"/>
<circle cx="1558.10" cy="771.00" r="4.0" fill="#e2191f"/>
<circle cx="1595.90" cy="729.90" r="4.0" fill="#e2191f"/>
<circle cx="1590.10" cy="738.70" r="4.0" fill="#e2191f"/>
<circle cx="1602.40" cy="738.30" r="4.0" fill="#e2191f"/>
<circle cx="1620.30" cy="760.60" r="4.0" fill="#e2191f"/>
<circle cx="1614.90" cy="772.20" r="4.0" fill="#e2191f"/>
<circle cx="1626.60" cy="771.00" r="4.0" fill="#e2191f"/>
<text x="1390.30" y="704.50" font-size="22.8" text-anchor="middle">a</text>
<text x="1413.00" y="758.80" font-size="22.8" text-anchor="middle">d</text>
<text x="1461.00" y="742.20" font-size="22.8" text-anchor="middle">c</text>
<text x="1483.60" y="775.50" font-size="22.8" text-anchor="middle">e</text>
<text x="1523.60" y="721.20" font-size="22.8" text-anchor="middle">b</text>
<text x="1557.00" y="754.50" font-size="22.8" text-anchor="middle">dc</text>
<text x="1594.30" y="717.80" font-size="22.8" text-anchor="middle">b</text>
<text x="1626.30" y="751.20" font-size="22.8" text-anchor="middle">dc</text>
<text transform="translate(1288.00 803.60) rotate(-90)" font-size="25.4" text-anchor="middle">Root to shoot ratio</text>
<rect x="1366.20" y="654.50" width="37.00" height="21.20" fill="#d3d4d4" stroke="#000" stroke-width="1.9"/>
<text x="1415.00" y="674.00" font-size="25">LN</text>
<rect x="1469.00" y="652.70" width="36.00" height="21.30" fill="#000"/>
<text x="1517.30" y="673.30" font-size="25">HN</text>
<text transform="translate(1407.00 934.00) rotate(-45)" font-size="25" text-anchor="end">ZH11</text>
<text transform="translate(1475.50 935.00) rotate(-45)" font-size="25" text-anchor="end"><tspan style="font-kerning:none">ZH11/</tspan><tspan font-style="italic">pAct::RNR10-Flag-1</tspan></text>
<text transform="translate(1549.60 935.00) rotate(-45)" font-size="25" text-anchor="end"><tspan style="font-kerning:none">ZH11/</tspan><tspan font-style="italic">pAct::RNR10-Flag-2</tspan></text>
<text transform="translate(1614.30 936.00) rotate(-45)" font-size="25" text-anchor="end"><tspan style="font-kerning:none">ZH11/</tspan><tspan font-style="italic">rnr10</tspan></text>
</svg>
</body>
</html>
